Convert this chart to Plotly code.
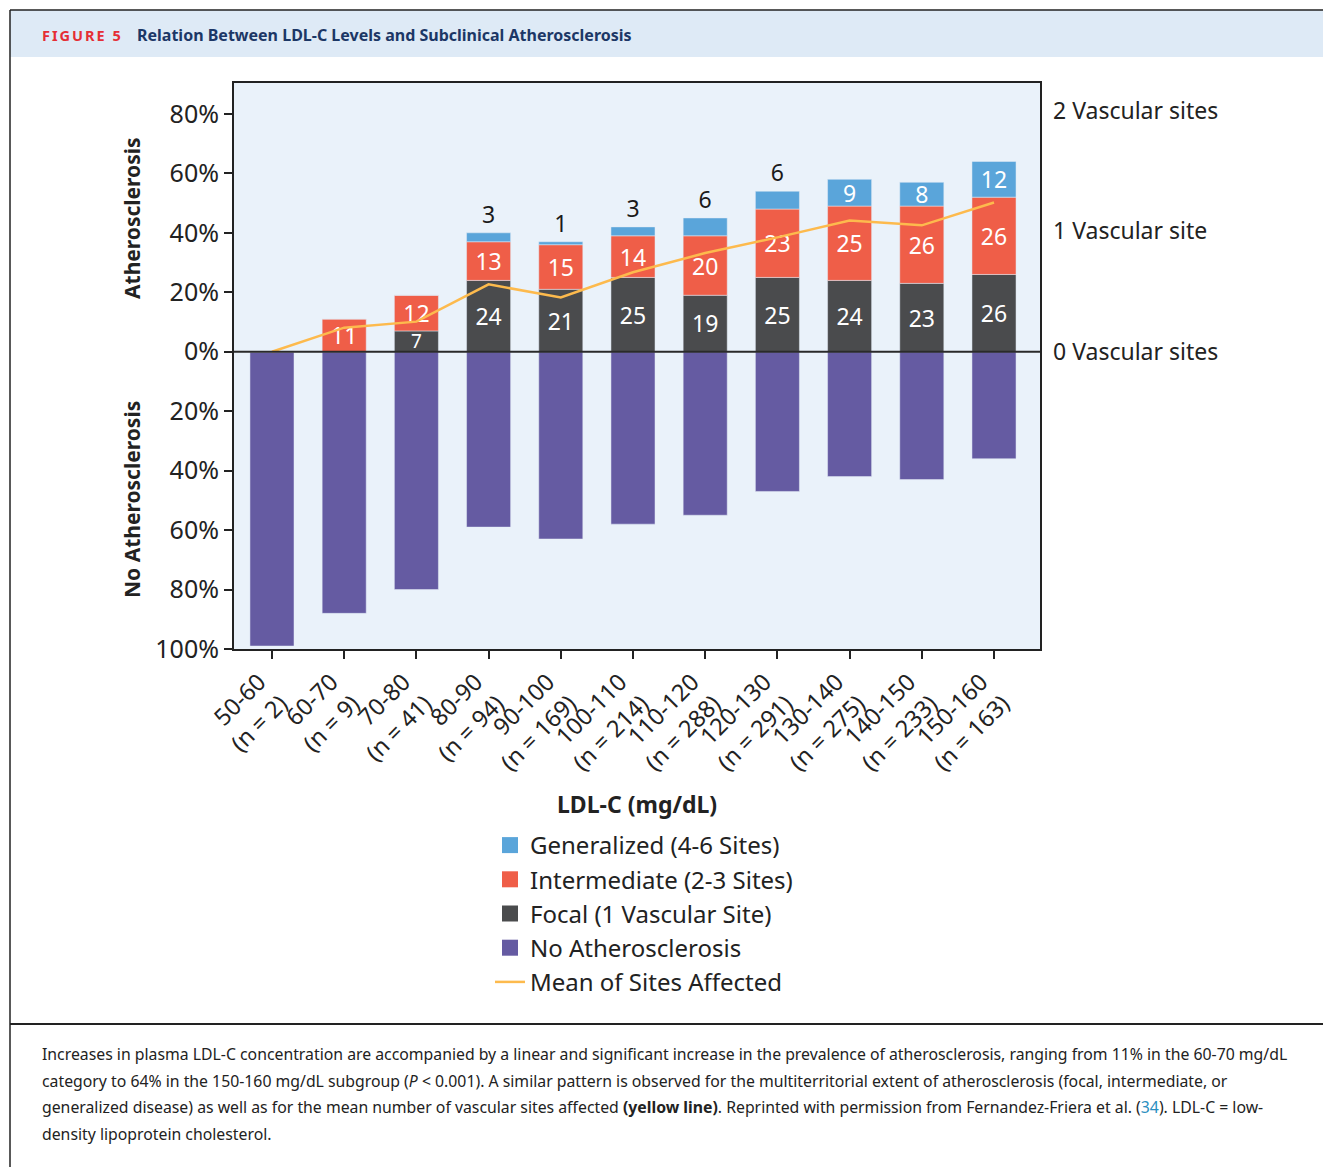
import plotly.graph_objects as go

# ---------------- data ----------------
categories = ["50-60<br>(n = 2)", "60-70<br>(n = 9)", "70-80<br>(n = 41)", "80-90<br>(n = 94)",
              "90-100<br>(n = 169)", "100-110<br>(n = 214)", "110-120<br>(n = 288)",
              "120-130<br>(n = 291)", "130-140<br>(n = 275)", "140-150<br>(n = 233)",
              "150-160<br>(n = 163)"]
focal = [0, 0, 7, 24, 21, 25, 19, 25, 24, 23, 26]
intermediate = [0, 11, 12, 13, 15, 14, 20, 23, 25, 26, 26]
generalized = [0, 0, 0, 3, 1, 3, 6, 6, 9, 8, 12]
no_athero = [-99, -88, -80, -59, -63, -58, -55, -47, -42, -43, -36]
mean_sites = [0, 0.20, 0.25, 0.56, 0.45, 0.66, 0.82, 0.95, 1.09, 1.05, 1.24]

y_tickvals = [-100, -80, -60, -40, -20, 0, 20, 40, 60, 80]
y_ticktext = ["100%", "80%", "60%", "40%", "20%", "0%", "20%", "40%", "60%", "80%"]
site_tickvals = [0, 1, 2]
site_ticktext = ["0 Vascular sites", "1 Vascular site", "2 Vascular sites"]

caption_lines = [
    "Increases in plasma LDL-C concentration are accompanied by a linear and significant increase in the prevalence of atherosclerosis, ranging from 11% in the 60-70 mg/dL",
    "category to 64% in the 150-160 mg/dL subgroup (<i>P</i> &lt; 0.001). A similar pattern is observed for the multiterritorial extent of atherosclerosis (focal, intermediate, or",
    "generalized disease) as well as for the mean number of vascular sites affected <b>(yellow line)</b>. Reprinted with permission from Fernandez-Friera et al. (<span style='color:#2a8fc0'>34</span>). LDL-C = low-",
    "density lipoprotein cholesterol.",
]
caption_y = [1054, 1081, 1107, 1134]

# ---------------- styling ----------------
FONT = "Noto Sans"
C_GEN = "#5AA5DA"
C_INT = "#EF5E48"
C_FOC = "#4A4B4D"
C_NO = "#655BA2"
C_LINE = "#FDBA4D"
PLOT_BG = "#EAF2FA"
HEAD_BG = "#DEEAF6"

PAGE_W, PAGE_H = 1323, 1167
L, R, T, B = 234, 1040, 83, 649  # plot area in page pixels
PW, PH = R - L, B - T


def px_x(px):
    return (px - L) / PW


def px_y(py):
    return (B - py) / PH


x = list(range(len(categories)))
Y_MIN, Y_MAX = -100, 90.4
SITE_SCALE = 40.5  # % units per vascular site
BAR_W = 0.61
LBL = 23

# slightly smaller label where a segment is very thin (keeps it clear of the label above)
focal_sizes = [LBL if v >= 10 else 19 for v in focal]

fig = go.Figure()

fig.add_trace(go.Bar(x=x, y=no_athero, name="No Atherosclerosis", marker_color=C_NO,
                     width=BAR_W, showlegend=False))
fig.add_trace(go.Bar(x=x, y=focal, name="Focal (1 Vascular Site)", marker_color=C_FOC,
                     width=BAR_W, showlegend=False, textangle=0, constraintext="none",
                     text=[str(v) if v else "" for v in focal], textposition="inside",
                     insidetextanchor="middle",
                     insidetextfont=dict(color="white", size=focal_sizes, family=FONT)))
fig.add_trace(go.Bar(x=x, y=intermediate, name="Intermediate (2-3 Sites)", marker_color=C_INT,
                     width=BAR_W, showlegend=False, textangle=0, constraintext="none",
                     text=[str(v) if v else "" for v in intermediate], textposition="inside",
                     insidetextanchor="middle",
                     insidetextfont=dict(color="white", size=LBL, family=FONT)))
gen_pos = ["none" if v == 0 else ("outside" if v <= 6 else "inside") for v in generalized]
fig.add_trace(go.Bar(x=x, y=generalized, name="Generalized (4-6 Sites)", marker_color=C_GEN,
                     width=BAR_W, showlegend=False, textangle=0, constraintext="none",
                     text=[str(v) if v else "" for v in generalized], textposition=gen_pos,
                     insidetextanchor="middle", cliponaxis=False,
                     insidetextfont=dict(color="white", size=LBL, family=FONT),
                     outsidetextfont=dict(color="#1a1a1a", size=LBL, family=FONT)))
fig.add_trace(go.Scatter(x=x, y=mean_sites, yaxis="y2", mode="lines",
                         name="Mean of Sites Affected", legendrank=5,
                         line=dict(color=C_LINE, width=2.5)))

# legend entries with larger square swatches
for rank, (nm, col) in enumerate([("Generalized (4-6 Sites)", C_GEN),
                                  ("Intermediate (2-3 Sites)", C_INT),
                                  ("Focal (1 Vascular Site)", C_FOC),
                                  ("No Atherosclerosis", C_NO)], start=1):
    fig.add_trace(go.Scatter(x=[None], y=[None], mode="markers", name=nm, legendrank=rank,
                             marker=dict(symbol="square", size=16, color=col)))

shapes = [
    dict(type="rect", xref="paper", yref="paper", x0=px_x(10), x1=px_x(1330),
         y0=px_y(57), y1=px_y(10), fillcolor=HEAD_BG, line=dict(width=0), layer="below"),
    dict(type="line", xref="paper", yref="paper", x0=px_x(10), x1=px_x(1330),
         y0=px_y(10), y1=px_y(10), line=dict(color="#222", width=1.5)),
    dict(type="line", xref="paper", yref="paper", x0=px_x(10), x1=px_x(10),
         y0=px_y(10), y1=px_y(1170), line=dict(color="#222", width=1.5)),
    dict(type="line", xref="paper", yref="paper", x0=px_x(10), x1=px_x(1330),
         y0=px_y(1024), y1=px_y(1024), line=dict(color="#222", width=2)),
    dict(type="line", xref="paper", yref="y", x0=0, x1=1, y0=0, y1=0,
         line=dict(color="#2a2a2a", width=2)),
]

annotations = [
    dict(xref="paper", yref="paper", x=px_x(40), y=px_y(35), xanchor="left", yanchor="middle",
         showarrow=False,
         text="<b><span style='letter-spacing:2px'>FIGURE 5</span></b>",
         font=dict(family=FONT, size=14.5, color="#E52E35")),
    dict(xref="paper", yref="paper", x=px_x(135), y=px_y(35), xanchor="left", yanchor="middle",
         showarrow=False,
         text="<b>Relation Between LDL-C Levels and Subclinical Atherosclerosis</b>",
         font=dict(family=FONT, size=16, color="#1C3766")),
    dict(xref="paper", yref="paper", x=px_x(132), y=px_y(218), textangle=-90,
         xanchor="center", yanchor="middle",
         showarrow=False, text="<b>Atherosclerosis</b>", font=dict(family=FONT, size=21, color="#222")),
    dict(xref="paper", yref="paper", x=px_x(132), y=px_y(500), textangle=-90,
         xanchor="center", yanchor="middle",
         showarrow=False, text="<b>No Atherosclerosis</b>", font=dict(family=FONT, size=21, color="#222")),
    dict(xref="paper", yref="paper", x=px_x(637), y=px_y(804), xanchor="center", yanchor="middle",
         showarrow=False, text="<b>LDL-C (mg/dL)</b>", font=dict(family=FONT, size=23, color="#222")),
]
for line_text, ly in zip(caption_lines, caption_y):
    annotations.append(dict(xref="paper", yref="paper", x=px_x(40), y=px_y(ly),
                            xanchor="left", yanchor="middle", align="left", showarrow=False,
                            text=line_text, font=dict(family=FONT, size=15.8, color="#222")))

fig.update_layout(
    width=PAGE_W, height=PAGE_H,
    margin=dict(l=L, r=PAGE_W - R, t=T, b=PAGE_H - B, autoexpand=False),
    paper_bgcolor="white", plot_bgcolor=PLOT_BG,
    barmode="relative",
    font=dict(family=FONT, color="#222"),
    showlegend=True,
    legend=dict(x=px_x(490), y=px_y(823), xanchor="left", yanchor="top",
                bgcolor="rgba(0,0,0,0)", font=dict(family=FONT, size=24, color="#222"),
                tracegroupgap=0, itemwidth=30),
    xaxis=dict(range=[-0.526, 10.637], tickmode="array", tickvals=x, ticktext=categories,
               tickangle=-45, ticks="outside", ticklen=8, tickwidth=2, tickcolor="#222",
               tickfont=dict(family=FONT, size=23.5, color="#222"), ticklabelshift=-13,
               showgrid=False, zeroline=False, showline=True, linecolor="#222", linewidth=2,
               mirror=True),
    yaxis=dict(range=[Y_MIN, Y_MAX], tickmode="array", tickvals=y_tickvals, ticktext=y_ticktext,
               ticks="outside", ticklen=8, tickwidth=2, tickcolor="#222",
               tickfont=dict(family=FONT, size=25, color="#222"),
               showgrid=False, zeroline=False, showline=True, linecolor="#222", linewidth=2,
               mirror=True),
    yaxis2=dict(overlaying="y", side="right", range=[Y_MIN / SITE_SCALE, Y_MAX / SITE_SCALE],
                tickmode="array", tickvals=site_tickvals, ticktext=site_ticktext,
                ticks="", showgrid=False, zeroline=False, showline=False,
                ticklabelstandoff=12,
                tickfont=dict(family=FONT, size=23, color="#222")),
    shapes=shapes, annotations=annotations,
)

fig.write_html("out.html", config={"displayModeBar": False},
               post_script="document.body.style.margin='0';document.body.style.overflow='hidden';")
